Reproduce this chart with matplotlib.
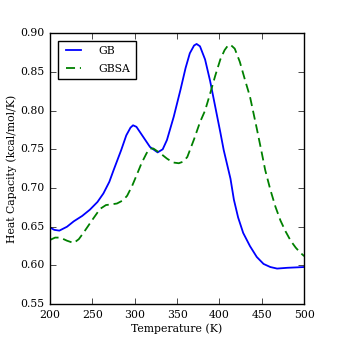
import matplotlib
matplotlib.use('Agg')
import matplotlib.pyplot as plt

plt.style.use('classic')
plt.rcParams['font.family'] = 'DejaVu Serif'
plt.rcParams['font.size'] = 7.8

# GB curve
gb_temp = [200, 205, 211, 220, 228, 238, 247, 256, 263, 270, 275, 284, 290, 295,
           298, 302, 310, 318, 327, 333, 338, 346, 354, 360, 365, 370, 373, 377,
           383, 389, 395, 401, 405, 413, 417, 422, 428, 436, 444, 452, 460, 468,
           480, 500]
gb_cp = [0.649, 0.646, 0.645, 0.650, 0.657, 0.664, 0.672, 0.682, 0.693, 0.708,
         0.723, 0.749, 0.768, 0.778, 0.781, 0.779, 0.766, 0.753, 0.746, 0.750,
         0.762, 0.792, 0.827, 0.855, 0.874, 0.884, 0.886, 0.883, 0.866, 0.838,
         0.805, 0.772, 0.749, 0.712, 0.685, 0.662, 0.642, 0.625, 0.611, 0.602,
         0.598, 0.596, 0.597, 0.598]

# GBSA curve
gbsa_temp = [200, 206, 212, 220, 228, 234, 240, 250, 259, 266, 273, 279, 286, 291,
             297, 302, 308, 314, 318, 322, 330, 338, 345, 352, 357, 362, 370, 377,
             383, 389, 395, 401, 406, 410, 413, 418, 424, 430, 436, 444, 450, 454,
             460, 466, 472, 478, 484, 490, 495, 500]
gbsa_cp = [0.633, 0.636, 0.636, 0.632, 0.629, 0.634, 0.643, 0.659, 0.673, 0.678,
           0.679, 0.680, 0.684, 0.690, 0.703, 0.716, 0.732, 0.745, 0.751, 0.751,
           0.745, 0.738, 0.733, 0.732, 0.734, 0.740, 0.763, 0.785, 0.800, 0.822,
           0.845, 0.866, 0.878, 0.884, 0.885, 0.880, 0.863, 0.840, 0.818, 0.777,
           0.745, 0.723, 0.698, 0.676, 0.658, 0.644, 0.632, 0.623, 0.617, 0.612]

fig = plt.figure(figsize=(3.38, 3.38), dpi=100, facecolor='white')
fig.subplots_adjust(left=0.148, right=0.9, bottom=0.1, top=0.902)
ax = fig.add_subplot(111)

ax.plot(gb_temp, gb_cp, 'b-', lw=1.3, label='GB')
ax.plot(gbsa_temp, gbsa_cp, 'g--', lw=1.3, dashes=(6.5, 3.5), label='GBSA')

ax.set_xlim(200, 500)
ax.set_ylim(0.55, 0.90)
ax.set_xticks([200, 250, 300, 350, 400, 450, 500])
ax.set_yticks([0.55, 0.60, 0.65, 0.70, 0.75, 0.80, 0.85, 0.90])
ax.set_xlabel('Temperature (K)', labelpad=3)
ax.set_ylabel('Heat Capacity (kcal/mol/K)', labelpad=2)
ax.legend(loc='upper left', fontsize=7.8, handlelength=2.0, handletextpad=1.3,
          labelspacing=0.7, borderpad=0.5, borderaxespad=0.7)

fig.savefig('out.png', dpi=100, facecolor='white')
